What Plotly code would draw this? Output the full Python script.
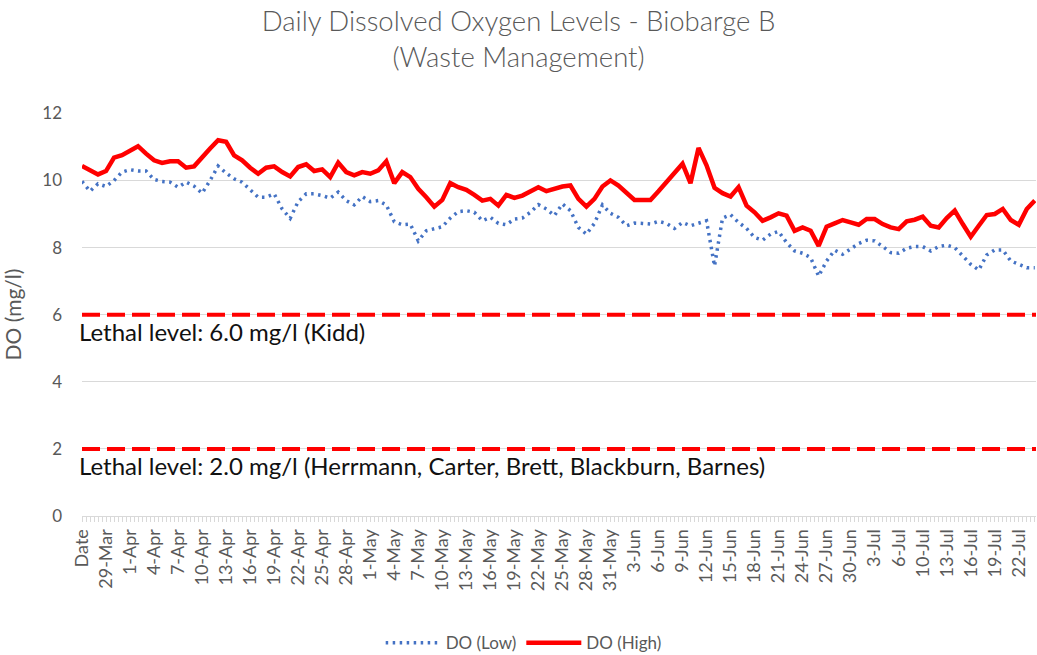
import pandas as pd
import plotly.graph_objects as go

# ---- data ----
dates = [d for d in pd.date_range("2021-03-27", "2021-07-24", freq="D") if not (d.month == 7 and d.day == 8)]
categories = ["Date"] + [f"{d.day}-{d.strftime('%b')}" for d in dates]

do_high = [10.43, 10.32, 10.18, 10.28, 10.68, 10.75, 10.9, 11.02, 10.8, 10.6,
           10.52, 10.57, 10.57, 10.38, 10.42, 10.7, 10.95, 11.2, 11.15, 10.75,
           10.6, 10.38, 10.2, 10.38, 10.42, 10.25, 10.12, 10.4, 10.48, 10.28,
           10.33, 10.1, 10.53, 10.25, 10.15, 10.25, 10.2, 10.3, 10.57, 9.92,
           10.25, 10.1, 9.75, 9.5, 9.22, 9.42, 9.92, 9.8, 9.72, 9.57,
           9.4, 9.45, 9.25, 9.57, 9.48, 9.55, 9.67, 9.8, 9.68, 9.75,
           9.82, 9.85, 9.45, 9.22, 9.45, 9.82, 10.0, 9.85, 9.62, 9.42,
           9.42, 9.42, 9.68, 9.95, 10.25, 10.5, 9.92, 10.97, 10.45, 9.78,
           9.62, 9.52, 9.8, 9.25, 9.05, 8.8, 8.9, 9.02, 8.95, 8.5,
           8.6, 8.5, 8.05, 8.62, 8.72, 8.82, 8.75, 8.68, 8.85, 8.85,
           8.7, 8.6, 8.55, 8.78, 8.83, 8.92, 8.65, 8.6, 8.88, 9.1,
           8.7, 8.32, 8.65, 8.97, 9.0, 9.15, 8.82, 8.68, 9.15, 9.4]

do_low = [9.97, 9.68, 9.9, 9.82, 10.0, 10.25, 10.32, 10.28, 10.28, 10.03,
          9.97, 9.95, 9.8, 9.95, 9.83, 9.62, 10.0, 10.43, 10.22, 10.05,
          9.95, 9.72, 9.5, 9.5, 9.6, 9.15, 8.87, 9.37, 9.6, 9.6,
          9.55, 9.47, 9.65, 9.4, 9.27, 9.52, 9.37, 9.4, 9.27, 8.77,
          8.68, 8.7, 8.2, 8.5, 8.57, 8.62, 8.88, 9.07, 9.1, 9.05,
          8.8, 8.9, 8.72, 8.68, 8.85, 8.88, 9.05, 9.28, 9.15, 8.95,
          9.3, 9.1, 8.6, 8.4, 8.72, 9.27, 9.02, 8.9, 8.65, 8.73,
          8.72, 8.7, 8.78, 8.72, 8.57, 8.75, 8.65, 8.72, 8.8, 7.45,
          8.88, 8.98, 8.75, 8.57, 8.3, 8.22, 8.4, 8.48, 8.15, 7.9,
          7.83, 7.7, 7.15, 7.6, 7.92, 7.8, 7.95, 8.12, 8.22, 8.2,
          8.03, 7.85, 7.83, 7.98, 8.03, 8.03, 7.9, 8.03, 8.07, 8.0,
          7.75, 7.5, 7.33, 7.78, 7.93, 7.93, 7.6, 7.5, 7.4, 7.4]

lethal_levels = [6.0, 2.0]
lethal_labels = ["Lethal level: 6.0 mg/l (Kidd)",
                 "Lethal level: 2.0 mg/l (Herrmann, Carter, Brett, Blackburn, Barnes)"]
y_ticks = [0, 2, 4, 6, 8, 10, 12]

# ---- figure ----
xi = list(range(len(categories)))
FONT = "Lato"
GRAY = "#595959"

fig = go.Figure()
fig.add_trace(go.Scatter(x=xi, y=do_low, mode="lines", name="DO (Low)",
                         line=dict(color="#4472C4", width=3.5, dash="2.5px,4.5px")))
fig.add_trace(go.Scatter(x=xi, y=do_high, mode="lines", name="DO (High)",
                         line=dict(color="#FF0000", width=4.5)))

for lvl, lab in zip(lethal_levels, lethal_labels):
    fig.add_hline(y=lvl, line=dict(color="#FF0000", width=4, dash="18px,7px"), layer="above")
    fig.add_annotation(x=0, xref="paper", xanchor="left", xshift=-5,
                       y=lvl, yref="y", yanchor="top", yshift=0, showarrow=False,
                       text=lab, font=dict(family=FONT, size=24, color="#111111"))

fig.update_layout(
    width=1037, height=655,
    margin=dict(l=82, r=1, t=113, b=139),
    paper_bgcolor="white", plot_bgcolor="white",
    title=dict(text="Daily Dissolved Oxygen Levels - Biobarge B<br>(Waste Management)",
               x=0.5, xanchor="center", y=0.952, yanchor="top",
               font=dict(family=FONT, size=27.5, color=GRAY, weight=300)),
    showlegend=True,
    legend=dict(orientation="h", xref="container", x=0.505, xanchor="center",
                yref="container", y=0.018, yanchor="middle",
                font=dict(family=FONT, size=17, color=GRAY), itemwidth=55),
    font=dict(family=FONT, color=GRAY),
)
fig.update_xaxes(
    range=[0, 119.15], tickmode="array", automargin=False,
    tickvals=xi[::3], ticktext=categories[::3], tickangle=-90,
    tickfont=dict(family=FONT, size=18, color=GRAY),
    ticks="outside", ticklen=5, tickcolor="#d9d9d9",
    minor=dict(dtick=0.5, tick0=0, ticks="outside", ticklen=5, tickcolor="#d9d9d9", showgrid=False),
    showgrid=False, showline=True, linecolor="#d9d9d9", linewidth=1, zeroline=False,
)
fig.update_yaxes(
    range=[0, 12.01], tickmode="array", tickvals=y_ticks, automargin=False,
    tickfont=dict(family=FONT, size=17, color=GRAY),
    showgrid=True, gridcolor="#d9d9d9", gridwidth=1, zeroline=False,
    ticks="", ticklabelstandoff=19,
    title=dict(text="DO (mg/l)", font=dict(family=FONT, size=21, color=GRAY), standoff=14),
)

fig.write_html("out.html", config={"displayModeBar": False},
               post_script="document.body.style.margin='0';document.body.style.overflow='hidden';")
